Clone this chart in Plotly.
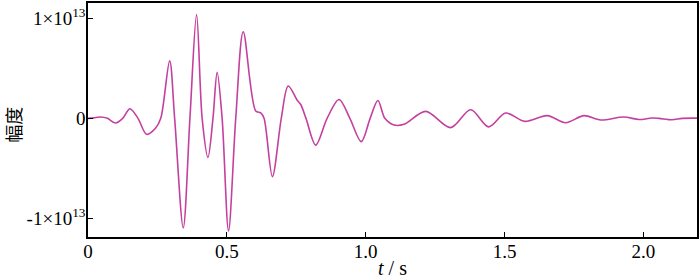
import plotly.graph_objects as go

SCALE = 1e13
# time (s) and amplitude (in units of 1e13)
t = [0.000, 0.020, 0.045, 0.070, 0.099, 0.125, 0.151, 0.180, 0.211, 0.243, 0.262, 0.294,
     0.312, 0.343, 0.367, 0.391, 0.411, 0.432, 0.450, 0.465, 0.483, 0.506, 0.532, 0.559,
     0.604, 0.622, 0.634, 0.664, 0.696, 0.721, 0.754, 0.766, 0.785, 0.820, 0.861, 0.904,
     0.943, 0.984, 1.016, 1.044, 1.069, 1.102, 1.138, 1.216, 1.306, 1.378, 1.443, 1.504,
     1.573, 1.654, 1.720, 1.786, 1.846, 1.930, 1.985, 2.030, 2.056, 2.103, 2.140, 2.193]
amp = [0.000, 0.005, 0.013, 0.000, -0.047, 0.000, 0.096, 0.000, -0.160, -0.100, 0.000, 0.577,
       0.000, -1.098, 0.000, 1.040, 0.000, -0.392, 0.000, 0.461, 0.000, -1.128, 0.000, 0.869,
       0.073, 0.056, 0.000, -0.584, 0.000, 0.325, 0.179, 0.139, 0.000, -0.269, 0.000, 0.189,
       0.000, -0.233, 0.000, 0.179, 0.000, -0.067, -0.060, 0.070, -0.093, 0.086, -0.085, 0.053,
       -0.030, 0.027, -0.044, 0.027, -0.017, 0.013, -0.012, 0.004, 0.000, -0.014, 0.000, 0.002]

x_ticks = [0, 0.5, 1.0, 1.5, 2.0]
x_labels = ["0", "0.5", "1.0", "1.5", "2.0"]
y_ticks = [1, 0, -1]
y_labels = ["1×10<sup>13</sup>", "0", "-1×10<sup>13</sup>"]

fig = go.Figure()
fig.add_trace(go.Scatter(
    x=t, y=[a * SCALE for a in amp], mode="lines",
    line=dict(color="#C4409F", width=1.6, shape="spline", smoothing=0.9),
    showlegend=False, hoverinfo="skip"))

serif = "Liberation Serif"
fig.update_layout(
    width=700, height=280,
    margin=dict(l=88, r=2, t=1, b=43),
    paper_bgcolor="white", plot_bgcolor="white",
    font=dict(family=serif, size=19, color="black"),
    xaxis=dict(range=[0, 2.193], tickvals=x_ticks, ticktext=x_labels,
               ticks="inside", ticklen=5, tickwidth=1.2, tickcolor="black",
               tickfont=dict(family=serif, size=19), ticklabelstandoff=-4,
               showline=True, linecolor="black", linewidth=1.5, mirror=True,
               showgrid=False, zeroline=False,
               title=dict(text="<i>t</i> / s", standoff=0,
                          font=dict(family=serif, size=20))),
    yaxis=dict(range=[-1.19 * SCALE, 1.157 * SCALE],
               tickvals=[v * SCALE for v in y_ticks], ticktext=y_labels,
               ticks="inside", ticklen=5, tickwidth=1.2, tickcolor="black",
               tickfont=dict(family=serif, size=19), ticklabelstandoff=-3,
               showline=True, linecolor="black", linewidth=1.5, mirror=True,
               showgrid=False, zeroline=False),
    annotations=[dict(text="幅度", xref="paper", yref="paper", x=-0.123, y=0.48,
                      xanchor="center", yanchor="middle",
                      textangle=-90, showarrow=False,
                      font=dict(family="Noto Sans CJK SC", size=18, color="black"))],
)
fig.write_html("out.html", config={"displayModeBar": False},
               post_script="document.body.style.margin='0';document.body.style.padding='0';")
